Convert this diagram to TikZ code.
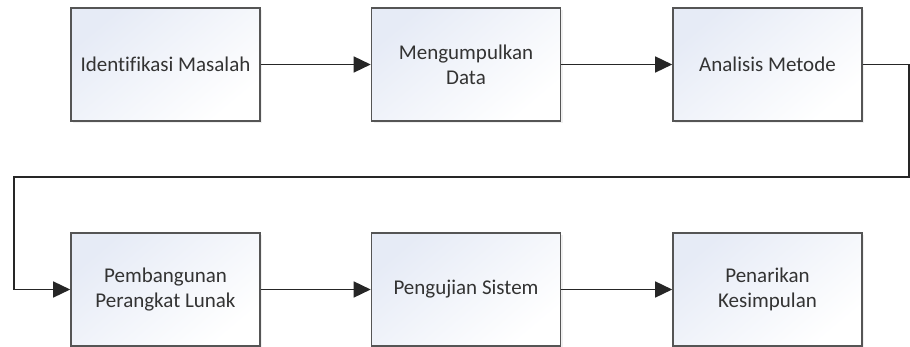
\documentclass[tikz,border=0pt]{standalone}
\usepackage{fontspec}
\setmainfont{Carlito}[Ligatures={NoCommon}]
\usepackage{xcolor}
\usepackage{tikz}
\usetikzlibrary{arrows.meta,shadows}

\definecolor{boxline}{HTML}{555555}
\definecolor{boxtext}{HTML}{333333}
\definecolor{boxfill}{HTML}{E6EBF6}

\tikzset{
  stage/.style={draw=boxline, line width=1.6pt, minimum width=189pt, minimum height=113pt,
    top color=boxfill, bottom color=white, shading angle=40, align=center, text=boxtext,
    font=\fontsize{21}{25}\selectfont,
    drop shadow={opacity=0.12, shadow xshift=2pt, shadow yshift=-2pt}},
  flow/.style={line width=1.5pt, draw=black!85, -{Triangle[length=17pt,width=16pt]}}
}

\begin{document}
\begin{tikzpicture}[x=1pt,y=-1pt]
  \useasboundingbox (0,0) rectangle (910,347);

  % top row
  \node[stage] (idm) at (165.5,64.5) {Identifikasi Masalah};
  \node[stage] (data) at (466,64.5) {Mengumpulkan\\Data};
  \node[stage] (anm) at (767.5,64.5) {Analisis Metode};

  % bottom row
  \node[stage] (ppl) at (165.5,289.5) {Pembangunan\\Perangkat Lunak};
  \node[stage] (uji) at (466,289.5) {Pengujian Sistem};
  \node[stage] (kes) at (767.5,289.5) {Penarikan\\Kesimpulan};

  \coordinate (ka) at (909,64.5);
  \coordinate (kb) at (909,177);
  \coordinate (kc) at (14,177);
  \coordinate (kd) at (14,289.5);

  \draw[flow] (idm) -- (data);
  \draw[flow] (data) -- (anm);
  \draw[flow] (anm.east) -- (ka) -- (kb) -- (kc) -- (kd) -- (ppl.west);
  \draw[flow] (ppl) -- (uji);
  \draw[flow] (uji) -- (kes);

\end{tikzpicture}
\end{document}
